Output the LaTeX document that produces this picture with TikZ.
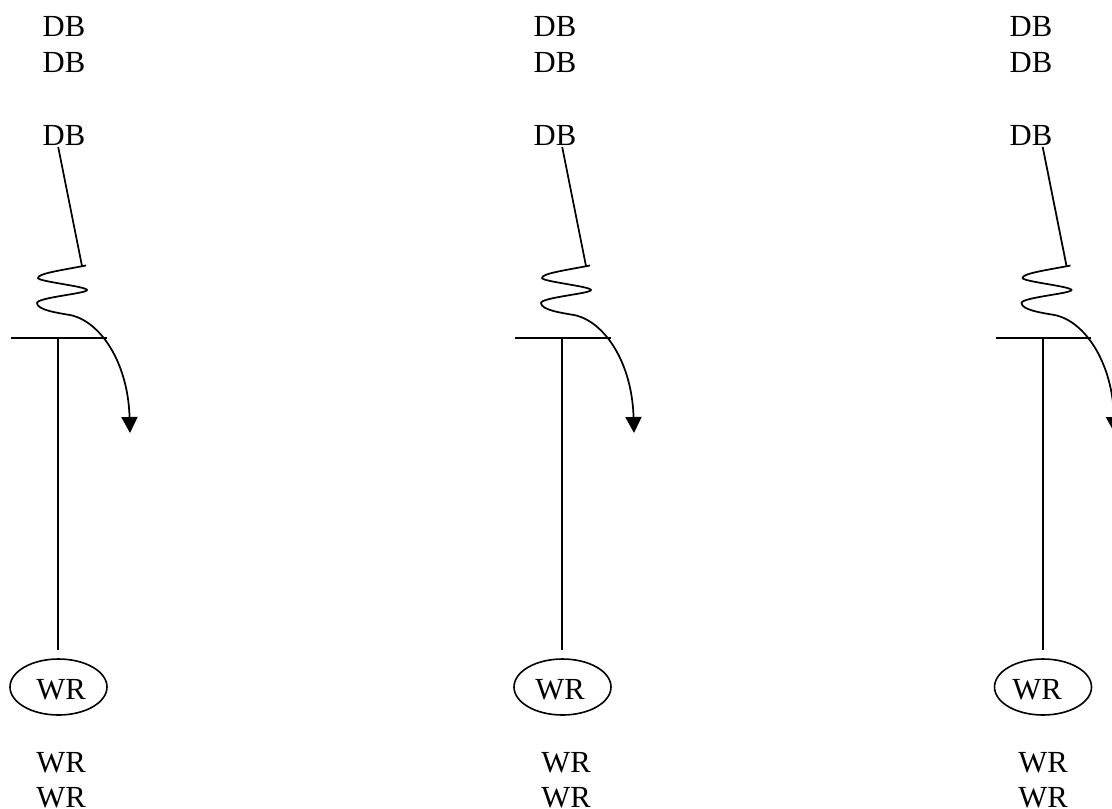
\documentclass[tikz,border=0pt]{standalone}
\usepackage{fontspec}
\setmainfont{Liberation Serif}
\usetikzlibrary{arrows.meta,shapes.geometric}
\tikzset{
  lbl/.style={anchor=base,inner sep=0pt,font=\fontsize{23}{23}\selectfont,text=black},
  wire/.style={draw=black,line width=1.3pt},
  bar/.style={draw=black,line width=2.1pt},
  oval/.style={draw=black,ellipse,line width=1.2pt,minimum width=97*0.75pt,minimum height=56*0.75pt,inner sep=0pt},
  flow/.style={draw=black,line width=1.3pt,-{Triangle[length=12pt,width=12pt]}}
}
\begin{document}
\begin{tikzpicture}[x=0.75pt,y=-0.75pt]
\useasboundingbox (0,0) rectangle (1112,809);
\clip (0,0) rectangle (1112,809);
\foreach \n/\o/\d/\w/\e in {a/0/64/61/61, b/504/555/566/560, c/984.5/1031/1043/1037}{
  \begin{scope}[shift={(\o,0)}]
    \coordinate (\n top) at (58.2,147);
    \coordinate (\n coil) at (82,266);
    \coordinate (\n barl) at (11,338);
    \coordinate (\n barr) at (106.5,338);
    \coordinate (\n barm) at (58.2,338);
    \coordinate (\n stem) at (58.2,650);
    \node[oval] (\n oval) at (58.5,687) {};
  \end{scope}
  \node[lbl] (\n db1) at (\d,37) {DB};
  \node[lbl] (\n db2) at (\d,73) {DB};
  \node[lbl] (\n db3) at (\d,145.5) {DB};
  \node[lbl] (\n wr0) at (\e,699) {WR};
  \node[lbl] (\n wr1) at (\w,772) {WR};
  \node[lbl] (\n wr2) at (\w,807) {WR};
  \draw[wire] (\n top) -- (\n coil);
  \draw[bar] (\n barl) -- (\n barr);
  \draw[wire] (\n barm) -- (\n stem);
  \begin{scope}[shift={(\o,0)}]
    \draw[flow] (86,265.5) .. controls (60,270.5) and (38,273.5) .. (38,278)
      .. controls (38,281.5) and (87,286.5) .. (87,290)
      .. controls (87,293.5) and (37,297.5) .. (37,303)
      .. controls (37,310) and (58,313) .. (70,315)
      .. controls (100,321) and (128,362) .. (130,433);
  \end{scope}
}
\end{tikzpicture}
\end{document}
